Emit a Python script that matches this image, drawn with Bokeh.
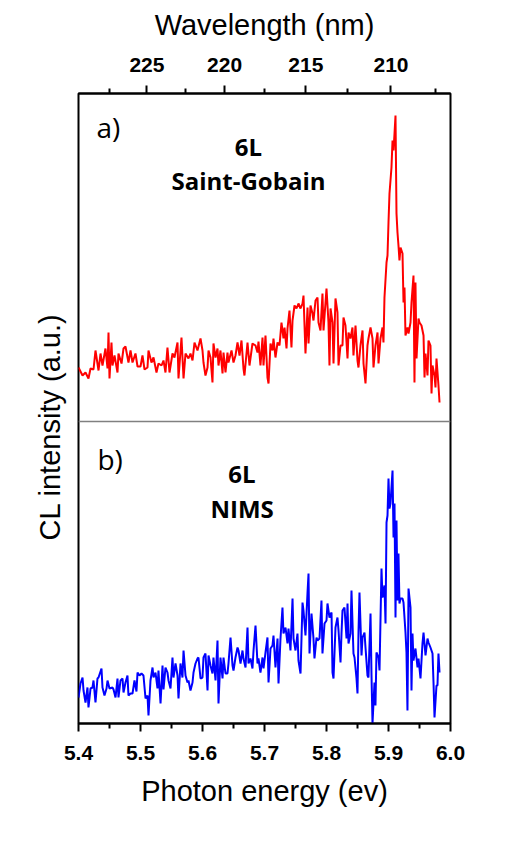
from bokeh.plotting import figure
from bokeh.models import (Range1d, LinearAxis, FixedTicker, CustomJSTickFormatter,
                          PrintfTickFormatter, Span, Label, Title)
from bokeh.embed import file_html
from bokeh.resources import INLINE

# ---------------- data ----------------
red_energy = [
    5.4000, 5.4065, 5.4113, 5.4161, 5.4194, 5.4242, 5.4274, 5.4323, 5.4355, 5.4387,
    5.4435, 5.4468, 5.4484, 5.4500, 5.4532, 5.4548, 5.4581, 5.4629, 5.4645, 5.4694,
    5.4726, 5.4758, 5.4806, 5.4839, 5.4871, 5.4919, 5.4952, 5.5000, 5.5032, 5.5065,
    5.5113, 5.5129, 5.5177, 5.5210, 5.5258, 5.5290, 5.5339, 5.5371, 5.5403, 5.5435,
    5.5468, 5.5516, 5.5548, 5.5597, 5.5613, 5.5661, 5.5694, 5.5726, 5.5774, 5.5806,
    5.5839, 5.5871, 5.5919, 5.5968, 5.6000, 5.6016, 5.6048, 5.6081, 5.6097, 5.6129,
    5.6161, 5.6177, 5.6210, 5.6242, 5.6258, 5.6290, 5.6323, 5.6339, 5.6371, 5.6403,
    5.6419, 5.6468, 5.6500, 5.6532, 5.6565, 5.6597, 5.6629, 5.6661, 5.6677, 5.6726,
    5.6758, 5.6806, 5.6855, 5.6887, 5.6903, 5.6935, 5.6968, 5.6984, 5.7016, 5.7048,
    5.7065, 5.7097, 5.7129, 5.7145, 5.7177, 5.7210, 5.7242, 5.7274, 5.7306, 5.7323,
    5.7355, 5.7371, 5.7403, 5.7435, 5.7452, 5.7484, 5.7516, 5.7548, 5.7581, 5.7613,
    5.7629, 5.7661, 5.7694, 5.7710, 5.7742, 5.7774, 5.7790, 5.7823, 5.7855, 5.7871,
    5.7903, 5.7935, 5.7952, 5.8000, 5.8032, 5.8048, 5.8065, 5.8097, 5.8113, 5.8145,
    5.8177, 5.8194, 5.8226, 5.8258, 5.8274, 5.8306, 5.8339, 5.8355, 5.8387, 5.8419,
    5.8435, 5.8468, 5.8500, 5.8516, 5.8548, 5.8581, 5.8597, 5.8629, 5.8661, 5.8677,
    5.8710, 5.8742, 5.8758, 5.8790, 5.8823, 5.8839, 5.8871, 5.8903, 5.8919, 5.8935,
    5.8968, 5.8984, 5.9000, 5.9016, 5.9048, 5.9065, 5.9081, 5.9097, 5.9113, 5.9129,
    5.9145, 5.9161, 5.9177, 5.9194, 5.9226, 5.9242, 5.9258, 5.9274, 5.9306, 5.9323,
    5.9355, 5.9371, 5.9403, 5.9419, 5.9435, 5.9452, 5.9484, 5.9500, 5.9532, 5.9565,
    5.9581, 5.9597, 5.9629, 5.9645, 5.9677, 5.9694, 5.9710, 5.9742, 5.9758, 5.9774,
    5.9806, 5.9823,
]
red_intensity = [
    54, 46, 49, 43, 53, 52, 71, 51, 68, 56,
    73, 53, 89, 43, 79, 56, 66, 49, 68, 58,
    73, 75, 59, 71, 59, 68, 55, 55, 66, 52,
    54, 71, 59, 64, 49, 58, 56, 61, 49, 74,
    49, 68, 64, 79, 43, 84, 43, 68, 63, 68,
    61, 79, 71, 83, 71, 59, 46, 54, 71, 64,
    39, 78, 64, 73, 56, 71, 48, 69, 49, 69,
    59, 71, 59, 66, 79, 66, 81, 53, 46, 79,
    56, 78, 76, 69, 80, 56, 84, 56, 86, 44,
    38, 78, 71, 83, 64, 79, 76, 99, 83, 94,
    73, 93, 111, 74, 101, 116, 113, 118, 113, 118,
    126, 68, 114, 78, 116, 108, 101, 121, 124, 99,
    91, 128, 91, 133, 99, 56, 113, 99, 58, 123,
    109, 56, 76, 76, 104, 96, 63, 89, 83, 94,
    66, 96, 61, 54, 76, 91, 58, 38, 76, 83,
    94, 83, 54, 76, 89, 58, 83, 94, 79, 124,
    159, 166, 199, 228, 254, 281, 271, 288, 306, 208,
    189, 176, 161, 174, 168, 119, 134, 86, 94, 88,
    99, 119, 146, 39, 139, 63, 103, 99, 96, 86,
    44, 68, 46, 81, 76, 28, 56, 46, 34, 63,
    36, 19,
]

blue_energy = [
    5.4000, 5.4032, 5.4065, 5.4081, 5.4113, 5.4145, 5.4161, 5.4194, 5.4226, 5.4242,
    5.4274, 5.4306, 5.4323, 5.4371, 5.4387, 5.4419, 5.4452, 5.4468, 5.4500, 5.4548,
    5.4565, 5.4597, 5.4629, 5.4645, 5.4677, 5.4710, 5.4726, 5.4758, 5.4790, 5.4806,
    5.4839, 5.4871, 5.4903, 5.4935, 5.4952, 5.4984, 5.5016, 5.5048, 5.5081, 5.5113,
    5.5129, 5.5161, 5.5194, 5.5210, 5.5242, 5.5274, 5.5290, 5.5323, 5.5355, 5.5371,
    5.5403, 5.5435, 5.5452, 5.5484, 5.5516, 5.5532, 5.5565, 5.5597, 5.5613, 5.5645,
    5.5677, 5.5694, 5.5726, 5.5758, 5.5774, 5.5806, 5.5839, 5.5855, 5.5887, 5.5919,
    5.5935, 5.5968, 5.6000, 5.6016, 5.6048, 5.6081, 5.6097, 5.6129, 5.6161, 5.6177,
    5.6210, 5.6242, 5.6258, 5.6290, 5.6323, 5.6339, 5.6371, 5.6403, 5.6419, 5.6452,
    5.6484, 5.6500, 5.6532, 5.6565, 5.6581, 5.6613, 5.6645, 5.6661, 5.6694, 5.6726,
    5.6742, 5.6774, 5.6806, 5.6823, 5.6855, 5.6887, 5.6903, 5.6935, 5.6968, 5.6984,
    5.7016, 5.7048, 5.7065, 5.7097, 5.7129, 5.7145, 5.7177, 5.7210, 5.7226, 5.7258,
    5.7290, 5.7306, 5.7339, 5.7371, 5.7387, 5.7419, 5.7452, 5.7468, 5.7500, 5.7532,
    5.7548, 5.7581, 5.7613, 5.7629, 5.7661, 5.7694, 5.7710, 5.7726, 5.7758, 5.7790,
    5.7806, 5.7839, 5.7855, 5.7887, 5.7919, 5.7935, 5.7968, 5.8000, 5.8016, 5.8048,
    5.8081, 5.8097, 5.8113, 5.8145, 5.8177, 5.8194, 5.8226, 5.8242, 5.8258, 5.8290,
    5.8323, 5.8339, 5.8355, 5.8387, 5.8403, 5.8435, 5.8452, 5.8484, 5.8500, 5.8516,
    5.8532, 5.8565, 5.8581, 5.8613, 5.8629, 5.8661, 5.8677, 5.8710, 5.8726, 5.8742,
    5.8774, 5.8790, 5.8806, 5.8839, 5.8855, 5.8887, 5.8903, 5.8935, 5.8952, 5.8968,
    5.8984, 5.9000, 5.9016, 5.9032, 5.9065, 5.9081, 5.9097, 5.9113, 5.9129, 5.9145,
    5.9161, 5.9177, 5.9194, 5.9226, 5.9242, 5.9274, 5.9290, 5.9306, 5.9323, 5.9355,
    5.9371, 5.9387, 5.9403, 5.9435, 5.9468, 5.9484, 5.9516, 5.9548, 5.9565, 5.9597,
    5.9629, 5.9645, 5.9677, 5.9710, 5.9726, 5.9742, 5.9774, 5.9790, 5.9806, 5.9823,
]
blue_intensity = [
    26, 40, 46, 33, 21, 36, 16, 35, 36, 43,
    21, 45, 46, 55, 36, 28, 35, 43, 35, 36,
    34, 26, 45, 26, 43, 45, 31, 41, 48, 28,
    30, 30, 43, 32, 51, 48, 50, 48, 25, 28,
    8, 43, 56, 46, 51, 35, 53, 20, 58, 34,
    56, 51, 43, 35, 66, 46, 60, 48, 25, 60,
    46, 73, 48, 41, 43, 33, 41, 51, 60, 65,
    66, 45, 46, 66, 70, 33, 68, 58, 50, 66,
    43, 83, 20, 66, 45, 66, 50, 50, 60, 86,
    58, 53, 66, 76, 73, 60, 73, 65, 56, 96,
    60, 65, 55, 73, 98, 60, 65, 51, 66, 55,
    71, 86, 41, 75, 78, 88, 56, 85, 40, 85,
    116, 90, 96, 80, 95, 73, 125, 85, 73, 90,
    63, 50, 121, 113, 88, 131, 150, 70, 110, 85,
    65, 86, 83, 85, 123, 70, 100, 103, 120, 106,
    111, 51, 45, 96, 106, 93, 61, 90, 113, 116,
    85, 120, 80, 90, 133, 70, 66, 45, 30, 91,
    131, 68, 86, 91, 76, 48, 46, 110, 48, 0,
    41, 18, 71, 66, 53, 155, 126, 138, 100, 201,
    208, 245, 215, 220, 253, 186, 220, 106, 203, 123,
    170, 120, 125, 125, 121, 91, 71, 13, 135, 116,
    33, 90, 63, 75, 56, 65, 45, 80, 91, 68,
    85, 81, 76, 70, 41, 6, 38, 38, 70, 51,
]

energy_major = [5.4, 5.5, 5.6, 5.7, 5.8, 5.9, 6.0]
energy_minor = [5.45, 5.55, 5.65, 5.75, 5.85, 5.95]
wavelength_major = [225, 220, 215, 210]
wavelength_minor = [227.5, 222.5, 217.5, 212.5, 207.5]
HC_EV_NM = 1239.84

# ---------------- figure ----------------
FONT = "Liberation Sans"
p = figure(frame_width=372, frame_height=630,
           min_border_left=78, min_border_right=74,
           min_border_top=93, min_border_bottom=122,
           x_range=Range1d(5.4, 6.0), y_range=Range1d(0, 630),
           y_axis_location=None, output_backend="svg", toolbar_location=None)
p.extra_y_ranges = {"red": Range1d(-302, 328)}
p.xgrid.visible = False
p.ygrid.visible = False
p.outline_line_color = "black"
p.outline_line_width = 2
p.outline_line_alpha = 1.0
p.background_fill_color = "white"
p.border_fill_color = "white"


def style_axis(ax):
    ax.axis_line_color = "black"
    ax.axis_line_width = 2
    ax.major_tick_line_color = "black"
    ax.minor_tick_line_color = "black"
    ax.major_tick_line_width = 2
    ax.minor_tick_line_width = 2
    ax.major_tick_in = 0
    ax.major_tick_out = 8
    ax.minor_tick_in = 0
    ax.minor_tick_out = 5
    ax.major_label_text_font = FONT
    ax.major_label_text_font_style = "bold"
    ax.major_label_text_font_size = "21px"
    ax.major_label_text_color = "black"
    ax.axis_label_text_font = FONT
    ax.axis_label_text_font_style = "normal"
    ax.axis_label_text_font_size = "29px"
    ax.axis_label_text_color = "black"


xa = p.xaxis[0]
xa.ticker = FixedTicker(ticks=energy_major, minor_ticks=energy_minor)
xa.formatter = PrintfTickFormatter(format="%.1f")
xa.axis_label = "Photon energy (ev)"
style_axis(xa)
xa.major_label_standoff = 14
xa.axis_label_standoff = 12

top = LinearAxis(
    ticker=FixedTicker(ticks=[HC_EV_NM / w for w in wavelength_major],
                       minor_ticks=[HC_EV_NM / w for w in wavelength_minor]),
    formatter=CustomJSTickFormatter(code="return Math.round(1239.84 / tick).toString();"),
    axis_label="Wavelength (nm)")
style_axis(top)
top.major_label_standoff = 14
top.axis_label_standoff = 14
p.add_layout(top, "above")

# y axis title (starts lower than the frame centre, as in the original)
p.add_layout(Title(text="CL intensity (a.u.)", align="left", offset=183, standoff=26,
                   text_font=FONT, text_font_size="29px", text_font_style="normal",
                   text_color="black"), "left")

# separator between the two panels
p.add_layout(Span(location=302, dimension="width", line_color="#808080", line_width=1.5))

p.line(red_energy, red_intensity, y_range_name="red", line_color="#FF0000", line_width=2)
p.line(blue_energy, blue_intensity, line_color="#0000FF", line_width=2)

# panel annotations
ann = dict(text_font="Open Sans", text_color="black", text_baseline="alphabetic")
p.add_layout(Label(x=5.4290, y=597, text="a)", text_font_size="28px", text_align="left", **ann))
p.add_layout(Label(x=5.6742, y=577, text="6L", text_font_size="24px", text_font_style="bold",
                   text_align="center", **ann))
p.add_layout(Label(x=5.6742, y=543, text="Saint-Gobain", text_font_size="24px",
                   text_font_style="bold", text_align="center", **ann))
p.add_layout(Label(x=5.4306, y=265, text="b)", text_font_size="28px", text_align="left", **ann))
p.add_layout(Label(x=5.6634, y=250, text="6L", text_font_size="24px", text_font_style="bold",
                   text_align="center", **ann))
p.add_layout(Label(x=5.6640, y=215, text="NIMS", text_font_size="24px", text_font_style="bold",
                   text_align="center", **ann))

open("out.html", "w").write(file_html(p, INLINE))
